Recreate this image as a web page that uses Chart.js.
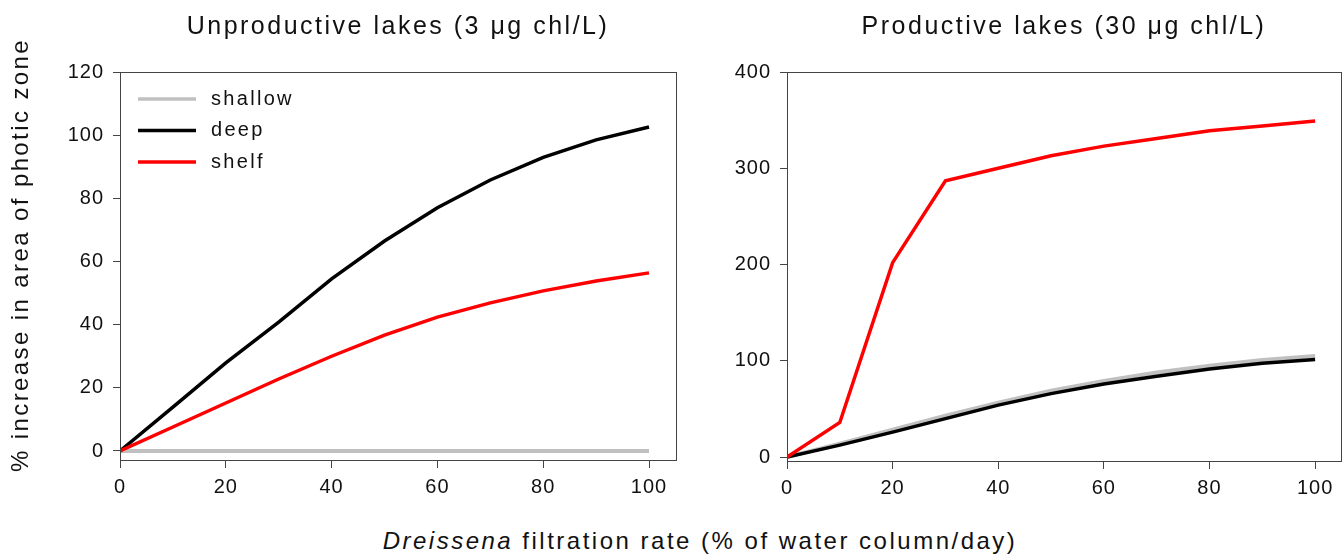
<!DOCTYPE html>
<html>
<head>
<meta charset="utf-8">
<script src="https://cdn.jsdelivr.net/npm/chart.js@4"></script>
<style>
  body { margin: 0; background: #fff; width: 1344px; height: 555px; position: relative; overflow: hidden; }
  #left { position: absolute; left: 0; top: 0; }
  #right { position: absolute; left: 700px; top: 0; }
  .txt {
    position: absolute; text-align: center; white-space: nowrap; color: #111;
    font-family: "Liberation Sans", Arial, sans-serif;
  }
  .ttl { top: 10px; height: 30px; line-height: 30px; font-size: 25px; letter-spacing: 2.5px; }
  #xtitle { left: 0; width: 1400px; top: 526px; line-height: 30px; font-size: 24px; letter-spacing: 2.5px; }
  #ytitle {
    left: -230px; top: 240px; width: 500px; height: 30px; line-height: 30px;
    font-size: 24px; letter-spacing: 2.4px; transform: rotate(-90deg);
  }
</style>
</head>
<body>
<canvas id="left" width="700" height="525"></canvas>
<canvas id="right" width="644" height="525"></canvas>
<div class="txt ttl" style="left:120px;width:556px">Unproductive lakes (3 &mu;g chl/L)</div>
<div class="txt ttl" style="left:787px;width:554px">Productive lakes (30 &mu;g chl/L)</div>
<div class="txt" id="ytitle">% increase in area of photic zone</div>
<div class="txt" id="xtitle"><i>Dreissena</i> filtration rate (% of water column/day)</div>
<script>
// filtration rate (% of water column/day)
const filtrationRates = [0, 10, 20, 30, 40, 50, 60, 70, 80, 90, 100];

// unproductive lakes (3 ug chl/L)
const lowShallow = [0, 0, 0, 0, 0, 0, 0, 0, 0, 0, 0];
const lowDeep    = [0, 13.9, 27.9, 40.8, 54.5, 66.5, 77, 85.8, 93, 98.5, 102.6];
const lowShelf   = [0, 7.6, 15.2, 22.8, 30, 36.7, 42.4, 46.9, 50.7, 53.8, 56.4];

// productive lakes (30 ug chl/L)
const highShallow = [0, 14, 28.5, 43, 56.5, 69, 79, 88, 95, 101, 105];
const highDeep    = [0, 12.5, 26, 40, 54, 66, 76, 84, 91.5, 97.5, 101.5];
const highShelf   = [0, 36, 202, 287, 300, 313, 323, 331, 339, 344, 349];

const xTicks = [0, 20, 40, 60, 80, 100];
const leftYTicks = [0, 20, 40, 60, 80, 100, 120];
const rightYTicks = [0, 100, 200, 300, 400];

const FONT = '"Liberation Sans", Arial, sans-serif';
const INK = '#111';
const AXIS = '#444';

function pts(ys) {
  return filtrationRates.map((x, i) => ({ x: x, y: ys[i] }));
}

// a little letter spacing for the tick labels
const spacing = {
  id: 'spacing',
  beforeDraw(chart) { chart.ctx.letterSpacing = '1px'; }
};

// box round the plot area
const frame = {
  id: 'frame',
  afterDraw(chart) {
    const { ctx, chartArea: a } = chart;
    ctx.save();
    ctx.strokeStyle = AXIS;
    ctx.lineWidth = 1;
    ctx.strokeRect(Math.round(a.left) + 0.5, Math.round(a.top) + 0.5,
      Math.round(a.right - a.left), Math.round(a.bottom - a.top));
    ctx.restore();
  }
};

// legend drawn inside the plot, top left
const insideLegend = {
  id: 'insideLegend',
  afterDatasetsDraw(chart, args, opts) {
    if (!opts.show) return;
    const { ctx, chartArea } = chart;
    ctx.save();
    ctx.font = '20px ' + FONT;
    ctx.letterSpacing = '2.3px';
    ctx.textBaseline = 'middle';
    chart.data.datasets.forEach((ds, i) => {
      const x = chartArea.left + 18;
      const y = chartArea.top + 27 + i * 31.5;
      ctx.strokeStyle = ds.borderColor;
      ctx.lineWidth = 3.5;
      ctx.beginPath();
      ctx.moveTo(x, y);
      ctx.lineTo(x + 58, y);
      ctx.stroke();
      ctx.fillStyle = INK;
      ctx.fillText(ds.label, x + 73, y);
    });
    ctx.restore();
  }
};

function makeChart(id, series, yTicks, yMin, yMax, xMax, axisW, padRight, xAxisH, showLegend) {
  const ctx = document.getElementById(id).getContext('2d');
  return new Chart(ctx, {
    type: 'line',
    data: {
      datasets: [
        { label: 'shallow', data: pts(series[0]), borderColor: '#c0c0c0', borderWidth: 4, order: 3 },
        { label: 'deep', data: pts(series[1]), borderColor: '#000000', borderWidth: 3.5, order: 2 },
        { label: 'shelf', data: pts(series[2]), borderColor: '#ff0000', borderWidth: 3.5, order: 1 }
      ]
    },
    options: {
      responsive: false,
      animation: false,
      elements: { point: { radius: 0 }, line: { tension: 0 } },
      layout: { padding: { left: 0, right: padRight, top: 72, bottom: 0 } },
      scales: {
        x: {
          type: 'linear',
          min: 0,
          max: xMax,
          afterBuildTicks: s => { s.ticks = xTicks.map(v => ({ value: v })); },
          afterFit: s => { s.height = xAxisH; },
          border: { display: false },
          grid: { drawOnChartArea: false, tickLength: 8, tickColor: AXIS },
          ticks: { color: INK, font: { family: FONT, size: 20 }, padding: 7, maxRotation: 0 }
        },
        y: {
          min: yMin,
          max: yMax,
          afterBuildTicks: s => { s.ticks = yTicks.map(v => ({ value: v })); },
          afterFit: s => { s.width = axisW; },
          border: { display: false },
          grid: { drawOnChartArea: false, tickLength: 7, tickColor: AXIS },
          ticks: { color: INK, font: { family: FONT, size: 20 }, padding: 9 }
        }
      },
      plugins: {
        legend: { display: false },
        tooltip: { enabled: false },
        title: { display: false },
        insideLegend: { show: showLegend }
      }
    },
    plugins: [spacing, frame, insideLegend]
  });
}

makeChart('left', [lowShallow, lowDeep, lowShelf], leftYTicks, -2.85, 120, 105.1, 120, 24, 65, true);
makeChart('right', [highShallow, highDeep, highShelf], rightYTicks, -4, 400, 104.9, 87, 3, 64, false);
</script>
</body>
</html>
